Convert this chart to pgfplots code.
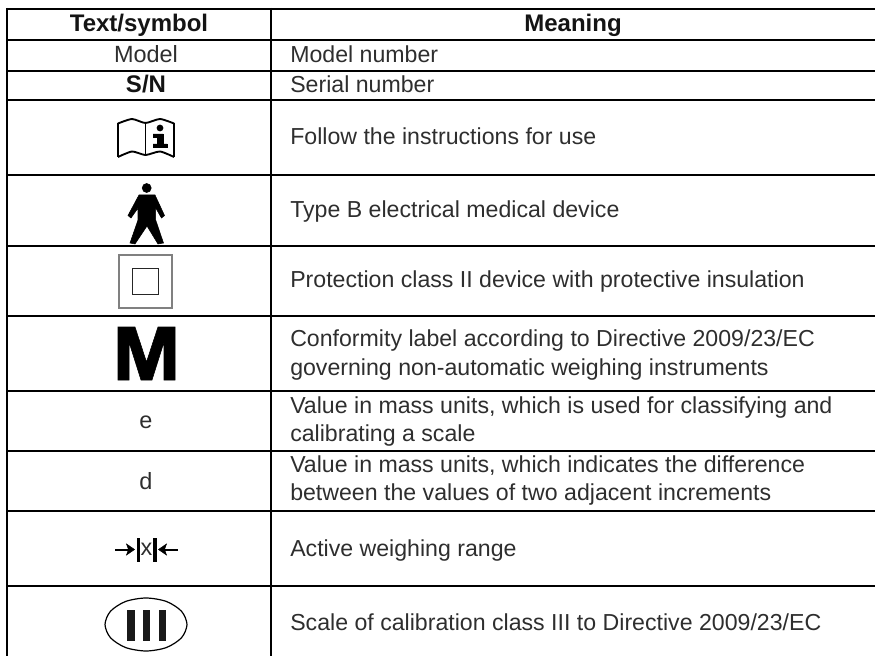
\documentclass[border=0pt]{standalone}
\usepackage{fontspec}
\setmainfont{Liberation Sans}
\usepackage{pgfplots}
\pgfplotsset{compat=1.18}
\tikzset{
 tx/.style={anchor=base west,inner sep=0pt,text=black!82,font=\fontsize{17.35}{20}\selectfont},
 cx/.style={anchor=base,inner sep=0pt,text=black!82,font=\fontsize{17.6}{20}\selectfont},
 bx/.style={anchor=base,inner sep=0pt,text=black!92,font=\fontsize{18}{20}\bfseries\selectfont},
 rule/.style={black,line width=1.5pt}}
\begin{document}
\begin{tikzpicture}
\path[use as bounding box] (0,0) rectangle (656.25pt,492pt);
\begin{axis}[at={(0,0)},anchor=south west,scale only axis,width=656.25pt,height=492pt,
 xmin=0,xmax=875,ymin=0,ymax=656,y dir=reverse,hide axis,clip=true]
% table rules
\addplot[rule] coordinates {(6,9) (875,9)};
\addplot[rule] coordinates {(6,40) (875,40)};
\addplot[rule] coordinates {(6,71) (875,71)};
\addplot[rule] coordinates {(6,100.5) (875,100.5)};
\addplot[rule] coordinates {(6,175.5) (875,175.5)};
\addplot[rule] coordinates {(6,246) (875,246)};
\addplot[rule] coordinates {(6,316) (875,316)};
\addplot[rule] coordinates {(6,391) (875,391)};
\addplot[rule] coordinates {(6,451) (875,451)};
\addplot[rule] coordinates {(6,510.5) (875,510.5)};
\addplot[rule] coordinates {(6,585.5) (875,585.5)};
\addplot[rule] coordinates {(7,8) (7,656)};
\addplot[rule] coordinates {(271,8) (271,656)};
% book
\addplot[black,line width=1.4pt,smooth,tension=0.4] coordinates {(118,123.5) (132,119) (145.5,123) (160,119) (174,123.5)};
\addplot[black,line width=1.4pt,smooth,tension=0.4] coordinates {(118,157) (132,151.5) (145.5,155) (160,151.5) (174,157)};
\addplot[black,line width=1.4pt] coordinates {(118,123.5) (118,157)};
\addplot[black,line width=1.4pt] coordinates {(174,123.5) (174,157)};
\addplot[black,line width=1.4pt] coordinates {(145.5,123) (145.5,155)};
\addplot[black,only marks,mark=*,mark size=2.3pt] coordinates {(160,128)};
\addplot[black,fill=black] coordinates {(153,134) (163,134) (163,144) (167,144) (167,147.5) (153,147.5) (153,144) (157,144) (157,137.5) (153,137.5)} --cycle;
% person
\addplot[black,only marks,mark=*,mark size=3.4pt] coordinates {(146.7,188)};
\addplot[black,fill=black] coordinates {(139,195) (155,195) (164.5,215.5) (161.5,218) (155.7,208) (155.7,220) (163.5,243) (158,244) (147,226) (135,244) (130,243) (138,220) (138,208) (131,218) (128,215.5)} --cycle;
% double square
\addplot[black!50,line width=1pt] coordinates {(119,255) (172,255) (172,308) (119,308)} --cycle;
\addplot[black!85,line width=0.7pt] coordinates {(132.5,268.5) (158.5,268.5) (158.5,294.5) (132.5,294.5)} --cycle;
% M
\addplot[black,fill=black] coordinates {(118,327) (135,327) (146.5,362) (158,327) (175,327) (175,380) (164,380) (164,342) (152,380) (141,380) (129,342) (129,380) (118,380)} --cycle;
% range symbol
\addplot[black,line width=2.5pt] coordinates {(138.3,538) (138.3,562)};
\addplot[black,line width=2.5pt] coordinates {(155,538) (155,562)};
\addplot[black,line width=1.5pt] coordinates {(115,549.5) (130,549.5)};
\addplot[black,line width=1.5pt] coordinates {(163,549.5) (178,549.5)};
\addplot[black,fill=black] coordinates {(134.5,549.5) (126.5,544) (128.5,549.5) (126.5,555)} --cycle;
\addplot[black,fill=black] coordinates {(158.5,549.5) (166.5,544) (164.5,549.5) (166.5,555)} --cycle;
% oval
\addplot[black,line width=0.9pt,smooth cycle] coordinates {(187,624.5) (181.5,611.25) (166.5,601.5) (146,598) (125.5,601.5) (110.5,611.25) (105,624.5) (110.5,637.75) (125.5,647.5) (146,651) (166.5,647.5) (181.5,637.75)};
\addplot[black!90,fill=black!90] coordinates {(127.5,610) (134,610) (134,640) (127.5,640)} --cycle;
\addplot[black!90,fill=black!90] coordinates {(143,610) (149.5,610) (149.5,640) (143,640)} --cycle;
\addplot[black!90,fill=black!90] coordinates {(159,610) (165,610) (165,640) (159,640)} --cycle;
% left column
\node[bx] at (axis cs:139,32) {Text/symbol};
\node[bx] at (axis cs:573,32) {Meaning};
\node[cx] at (axis cs:146,63) {Model};
\node[bx] at (axis cs:146,93) {S/N};
\node[cx] at (axis cs:146,428) {e};
\node[cx] at (axis cs:146,489) {d};
\node[cx] at (axis cs:146.5,555) {x};
% right column
\node[tx] at (axis cs:290,63) {Model number};
\node[tx] at (axis cs:290,93) {Serial number};
\node[tx] at (axis cs:290,145) {Follow the instructions for use};
\node[tx] at (axis cs:290,218) {Type B electrical medical device};
\node[tx] at (axis cs:290,287.7) {Protection class II device with protective insulation};
\node[tx] at (axis cs:290,346) {Conformity label according to Directive 2009/23/EC};
\node[tx] at (axis cs:290,375) {governing non-automatic weighing instruments};
\node[tx] at (axis cs:290,413) {Value in mass units, which is used for classifying and};
\node[tx] at (axis cs:290,441.7) {calibrating a scale};
\node[tx] at (axis cs:290,472.7) {Value in mass units, which indicates the difference};
\node[tx] at (axis cs:290,500.7) {between the values of two adjacent increments};
\node[tx] at (axis cs:290,556) {Active weighing range};
\node[tx] at (axis cs:290,630) {Scale of calibration class III to Directive 2009/23/EC};
\end{axis}
\end{tikzpicture}
\end{document}
